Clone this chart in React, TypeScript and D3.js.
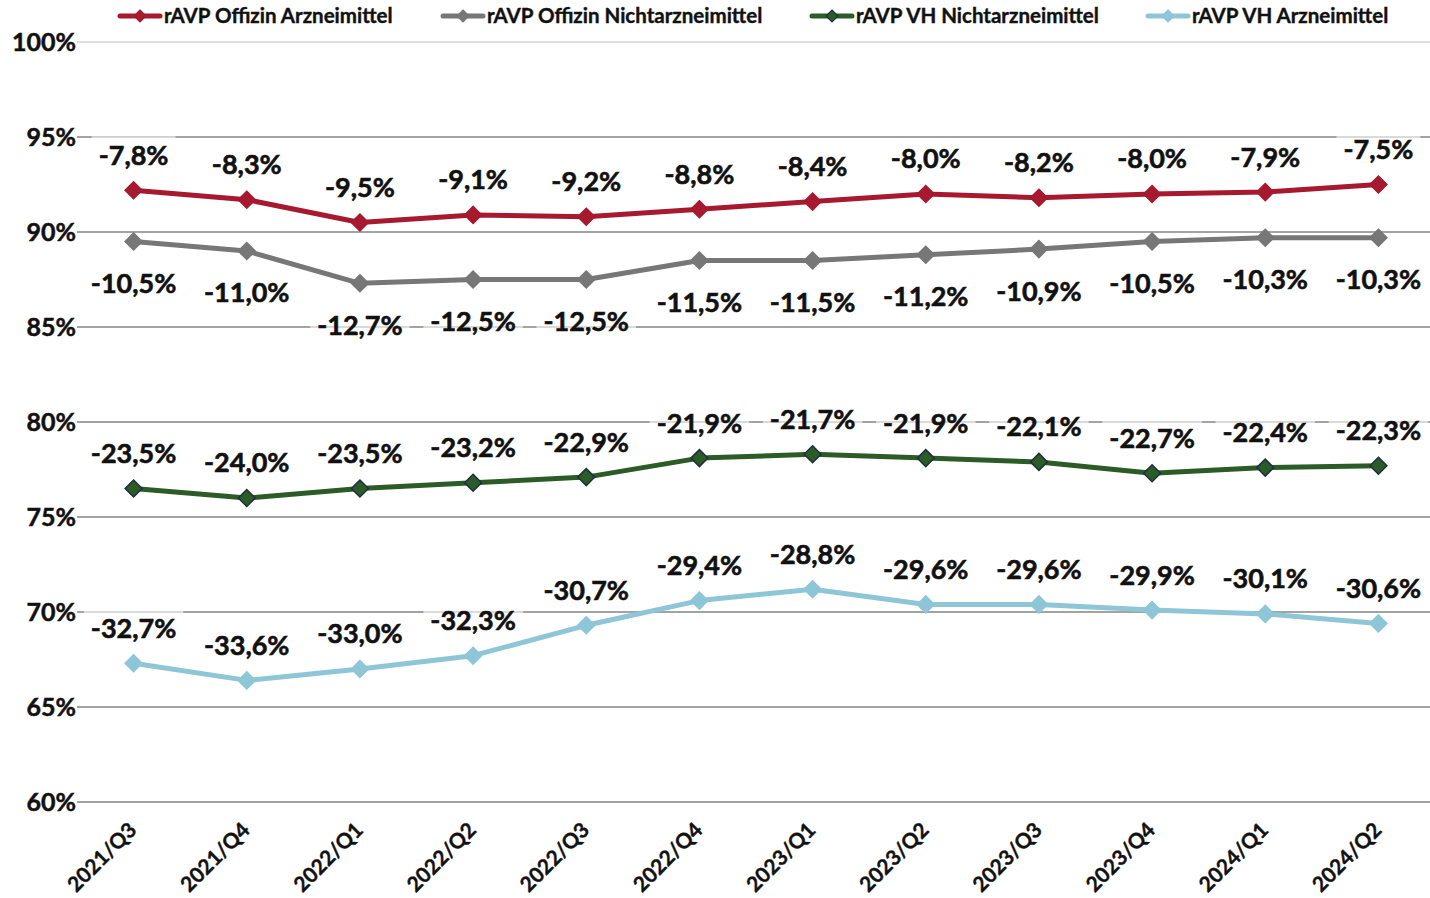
import { useEffect, useRef } from "react";
import * as d3 from "d3";

const quarters = [
  "2021/Q3", "2021/Q4", "2022/Q1", "2022/Q2", "2022/Q3", "2022/Q4",
  "2023/Q1", "2023/Q2", "2023/Q3", "2023/Q4", "2024/Q1", "2024/Q2",
];

// change vs. 100% (the label shows the change, the point sits at 100% + change)
const offizinArznei = [-7.8, -8.3, -9.5, -9.1, -9.2, -8.8, -8.4, -8.0, -8.2, -8.0, -7.9, -7.5];
const offizinNichtArznei = [-10.5, -11.0, -12.7, -12.5, -12.5, -11.5, -11.5, -11.2, -10.9, -10.5, -10.3, -10.3];
const vhNichtArznei = [-23.5, -24.0, -23.5, -23.2, -22.9, -21.9, -21.7, -21.9, -22.1, -22.7, -22.4, -22.3];
const vhArznei = [-32.7, -33.6, -33.0, -32.3, -30.7, -29.4, -28.8, -29.6, -29.6, -29.9, -30.1, -30.6];

const yTicks = [60, 65, 70, 75, 80, 85, 90, 95, 100];

const series = [
  { name: "rAVP Offizin Arzneimittel", values: offizinArznei, color: "#a6192e", stroke: "#a6192e", labelPos: "above", legendX: 120 },
  { name: "rAVP Offizin Nichtarzneimittel", values: offizinNichtArznei, color: "#777777", stroke: "#777777", labelPos: "below", legendX: 443 },
  { name: "rAVP VH Nichtarzneimittel", values: vhNichtArznei, color: "#2b5b26", stroke: "#1f2f3f", labelPos: "above", legendX: 812 },
  { name: "rAVP VH Arzneimittel", values: vhArznei, color: "#8ec6d8", stroke: "#8ec6d8", labelPos: "above", legendX: 1148 },
];

const W = 1430;
const H = 898;
const font = "Lato, 'Open Sans', sans-serif";
const ink = "#111";

const fmt = (v: number) => v.toFixed(1).replace(".", ",") + "%";
const diamond = (r: number) => `M0,${-r}L${r},0L0,${r}L${-r},0Z`;

export default function App() {
  const ref = useRef<SVGSVGElement>(null);

  useEffect(() => {
    const svg = d3.select(ref.current);
    svg.selectAll("*").remove();

    const x = d3.scalePoint<string>().domain(quarters).range([77, 1435]).padding(0.5);
    const y = d3.scaleLinear().domain([60, 100]).range([802, 42]);

    // grid
    svg.append("g")
      .selectAll("line")
      .data(yTicks)
      .join("line")
      .attr("x1", 77)
      .attr("x2", W)
      .attr("y1", (d) => y(d))
      .attr("y2", (d) => y(d))
      .attr("stroke", "#858585")
      .attr("stroke-width", 1.5);

    svg.append("g")
      .selectAll("text")
      .data(yTicks)
      .join("text")
      .attr("x", 76)
      .attr("y", (d) => y(d))
      .attr("dy", "0.35em")
      .attr("text-anchor", "end")
      .attr("font-family", font)
      .attr("font-weight", 700)
      .attr("font-size", 25)
      .attr("fill", ink)
      .attr("stroke", ink)
      .attr("stroke-width", 0.5)
      .text((d) => d + "%");

    // x labels
    svg.append("g")
      .selectAll("text")
      .data(quarters)
      .join("text")
      .attr("transform", (d) => `translate(${(x(d) ?? 0) - 6},${821}) rotate(-45)`)
      .attr("text-anchor", "end")
      .attr("dy", "0.7em")
      .attr("font-family", font)
      .attr("font-weight", 700)
      .attr("font-size", 21)
      .attr("fill", ink)
      .attr("stroke", ink)
      .attr("stroke-width", 0.4)
      .text((d) => d);

    // legend background (lightens the top grid line)
    svg.append("rect")
      .attr("x", 77)
      .attr("y", 0)
      .attr("width", W - 77)
      .attr("height", 46)
      .attr("fill", "#fff")
      .attr("opacity", 0.65);

    const line = d3.line<number>()
      .x((_, i) => x(quarters[i]) ?? 0)
      .y((d) => y(100 + d));

    series.forEach((s) => {
      svg.append("path")
        .datum(s.values)
        .attr("d", line)
        .attr("fill", "none")
        .attr("stroke", s.color)
        .attr("stroke-width", 5)
        .attr("stroke-linejoin", "round");

      svg.append("g")
        .selectAll("path")
        .data(s.values)
        .join("path")
        .attr("transform", (d, i) => `translate(${x(quarters[i])},${y(100 + d)})`)
        .attr("d", diamond(8.5))
        .attr("fill", s.color)
        .attr("stroke", s.stroke)
        .attr("stroke-width", 1.5);
    });

    // data labels with translucent boxes
    series.forEach((s) => {
      const g = svg.append("g");
      s.values.forEach((v, i) => {
        const cx = x(quarters[i]) ?? 0;
        const cy = y(100 + v) + (s.labelPos === "above" ? -35 : 42);
        const lg = g.append("g");
        const rect = lg.append("rect").attr("fill", "#fff").attr("opacity", 0.6);
        const t = lg.append("text")
          .attr("x", cx)
          .attr("y", cy)
          .attr("dy", "0.35em")
          .attr("text-anchor", "middle")
          .attr("font-family", font)
          .attr("font-weight", 700)
          .attr("font-size", 27)
          .attr("fill", ink)
          .attr("stroke", ink)
          .attr("stroke-width", 0.6)
          .text(fmt(v));
        const w = (t.node() as SVGTextElement).getComputedTextLength();
        rect
          .attr("x", cx - w / 2 - 7)
          .attr("y", cy - 19)
          .attr("width", w + 14)
          .attr("height", 38);
      });
    });

    // legend
    series.forEach((s) => {
      const lg = svg.append("g").attr("transform", `translate(${s.legendX},16)`);
      lg.append("line")
        .attr("x1", 0)
        .attr("x2", 40)
        .attr("stroke", s.color)
        .attr("stroke-width", 5)
        .attr("stroke-linecap", "round");
      lg.append("path")
        .attr("transform", "translate(20,0)")
        .attr("d", diamond(6))
        .attr("fill", s.color)
        .attr("stroke", s.stroke)
        .attr("stroke-width", 1.2);
      lg.append("text")
        .attr("x", 44)
        .attr("dy", "0.35em")
        .attr("font-family", font)
        .attr("font-weight", 700)
        .attr("font-size", 20.5)
        .attr("fill", ink)
        .attr("stroke", ink)
        .attr("stroke-width", 0.4)
        .text(s.name);
    });
  }, []);

  return (
    <svg
      ref={ref}
      width={W}
      height={H}
      style={{ position: "absolute", left: 0, top: 0, background: "#fff" }}
    />
  );
}
